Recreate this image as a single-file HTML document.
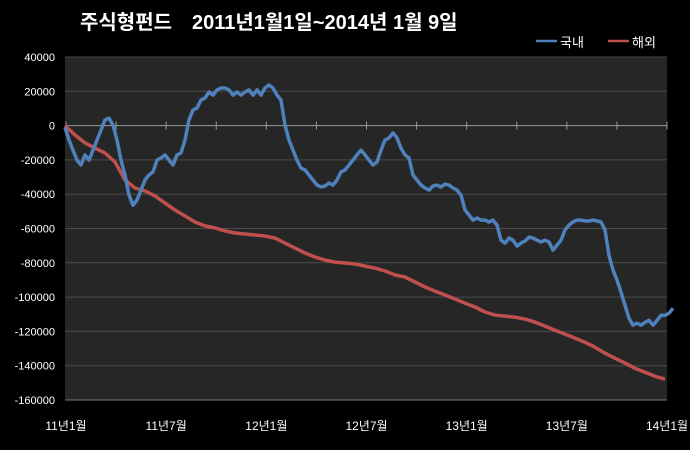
<!DOCTYPE html>
<html><head><meta charset="utf-8"><style>
body{margin:0;background:#000;width:690px;height:450px;overflow:hidden}
svg{display:block}
text{font-family:"Liberation Sans","Noto Sans CJK KR",sans-serif;fill:#fff}
</style></head><body>
<svg id="c" width="690" height="450">
<rect x="0" y="0" width="690" height="450" fill="#000"/>
<text x="80" y="29" font-size="20" font-weight="bold">주식형펀드　2011년1월1일~2014년 1월 9일</text>
<g>
<line x1="536" y1="41" x2="557" y2="41" stroke="#4f81bd" stroke-width="2.5"/>
<text x="560" y="47" font-size="13">국내</text>
<line x1="608" y1="41" x2="629" y2="41" stroke="#c0504d" stroke-width="2.5"/>
<text x="632" y="47" font-size="13">해외</text>
</g>
<rect x="65" y="57" width="602" height="343" fill="#262626"/>
<g id="grid"></g><g id="axes"></g><g id="series"></g>
</svg>
<script>
const yTicks=[40000,20000,0,-20000,-40000,-60000,-80000,-100000,-120000,-140000,-160000];
const xLabels=["11년1월","11년7월","12년1월","12년7월","13년1월","13년7월","14년1월"];
// weekly values (thousands)
const domestic=[-1,-8.4,-14.3,-20.1,-23,-17.1,-20.1,-14.3,-8.4,-2.6,3.3,4.4,0.3,-8.4,-20.1,-28.8,-40.5,-46.4,-43.4,-37.6,-31.7,-28.8,-27,-20.1,-18.9,-17.1,-20.1,-23,-17.1,-16,-8.4,3.3,9.1,10.3,14.9,16.1,19.6,17.8,20.8,21.9,21.9,20.8,17.8,19.6,17.8,19.6,20.8,17.8,20.8,17.8,21.9,23.7,21.9,17.8,14.9,0.3,-8.4,-14.3,-20.1,-24.8,-25.9,-28.8,-31.7,-34.7,-35.8,-35.2,-33.5,-34.7,-31.7,-27,-25.9,-23,-20.1,-17.1,-14.3,-17.1,-20.1,-23,-21.2,-14.3,-8.4,-7.2,-4.3,-7.2,-13.1,-17.1,-18.9,-28.8,-31.7,-34.7,-36.4,-37.6,-35.2,-34.7,-35.8,-34.1,-34.7,-36.4,-37.6,-40.5,-49.2,-52.1,-55.1,-53.9,-55.1,-55.1,-56.2,-55.1,-58,-66.8,-68.5,-65.6,-66.8,-70.3,-68.5,-67.3,-65,-65.6,-66.8,-67.9,-66.8,-67.9,-72.6,-69.7,-66.8,-60.9,-58,-56.2,-55.1,-55.1,-55.6,-55.6,-55.1,-55.6,-56.2,-60.9,-75.6,-84.2,-90.1,-97.1,-104.7,-112.3,-116.4,-115.2,-116.4,-114.7,-113.5,-116.4,-113.5,-110.6,-110.6,-109.4,-106.5];
// every 2.5 weeks (thousands)
const overseas=[0,-5.5,-10.1,-13.1,-16,-21.2,-31.7,-36.4,-38.1,-41,-45.2,-49.2,-52.7,-56.2,-58.5,-59.7,-61.4,-62.6,-63.2,-63.8,-64.4,-65.6,-68.5,-71.4,-74.3,-76.6,-78.4,-79.6,-80.1,-80.7,-81.9,-83.1,-84.8,-87.1,-88.3,-91.2,-94.1,-96.5,-98.8,-101.1,-103.5,-105.8,-108.7,-110.5,-111.1,-111.7,-112.8,-114.6,-116.9,-119.3,-121.6,-123.9,-126.3,-129.2,-132.7,-135.6,-138.5,-141.5,-143.8,-146.2,-147.9];
const domesticStep=1, overseasStep=2.5;
const NS='http://www.w3.org/2000/svg';
const X0=65,X1=667,Y0=57,Y1=400,WEEKS=150.5;
const xs=w=>X0+(w/WEEKS)*(X1-X0);
const ys=v=>Y0+(40000-v)/200000*(Y1-Y0);
function mk(t,a,p){const e=document.createElementNS(NS,t);for(const k in a)e.setAttribute(k,a[k]);p.appendChild(e);return e;}
const grid=document.getElementById('grid'),axes=document.getElementById('axes'),ser=document.getElementById('series');
yTicks.forEach(v=>{
  const y=ys(v);
  if(v!==0&&v!==-160000){const l=mk('line',{x1:X0,x2:X1,y1:y,y2:y,stroke:'#4a4a4a','stroke-width':1},grid);
  
  }
  const t=mk('text',{x:55,y:y+4,'font-size':11,'text-anchor':'end'},axes);t.textContent=v;
  
  
});
const za=mk('line',{x1:X0,x2:X1,y1:ys(0),y2:ys(0),stroke:'#9a9a9a','stroke-width':1},axes);


const ba=mk('line',{x1:X0,x2:X1,y1:Y1,y2:Y1,stroke:'#777','stroke-width':1},axes);


for(let i=0;i<=12;i++){const x=X0+1+i*(X1-X0-1)/12;
  const tk=mk('line',{x1:x,x2:x,y1:ys(0)-4,y2:ys(0)+4,stroke:'#9a9a9a'},axes);
  
  }
xLabels.forEach((s,i)=>{const x=X0+1+i*(X1-X0-1)/6;
  const t=mk('text',{x:x,y:430,'font-size':12,'text-anchor':'middle'},axes);t.textContent=s;
  
  });
function path(arr,step,color,name){
  const d=arr.map((v,i)=>(i?'L':'M')+xs(i*step).toFixed(1)+','+ys(v*1000).toFixed(1)).join('');
  const p=mk('path',{d:d,fill:'none',stroke:color,'stroke-width':3.5,'stroke-linejoin':'round'},ser);
  
  
}
path(overseas,overseasStep,'#c0504d','overseas-line');
path(domestic,domesticStep,'#4f81bd','domestic-line');
</script>
</body></html>
